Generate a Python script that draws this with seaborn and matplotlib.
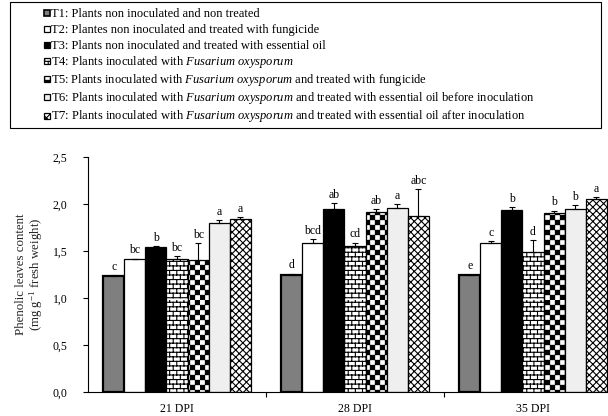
import warnings

import numpy as np
import pandas as pd
import matplotlib
matplotlib.use("Agg")
import matplotlib.pyplot as plt
import matplotlib.patches as mpatches
from matplotlib import hatch as mhatch
from matplotlib.path import Path
from matplotlib.legend_handler import HandlerPatch
from matplotlib.ticker import FuncFormatter
import seaborn as sns

warnings.filterwarnings("ignore")

# ---------------------------------------------------------------- data
dpi_labels = ["21 DPI", "28 DPI", "35 DPI"]
treatments = ["T1", "T2", "T3", "T4", "T5", "T6", "T7"]

legend_labels = [
    "T1: Plants non inoculated and non treated",
    "T2: Plantes non inoculated and treated with fungicide",
    "T3: Plants non inoculated and treated with essential oil",
    "T4: Plants inoculated with $\\mathit{Fusarium\\ oxysporum}$",
    "T5: Plants inoculated with $\\mathit{Fusarium\\ oxysporum}$ and treated with fungicide",
    "T6: Plants inoculated with $\\mathit{Fusarium\\ oxysporum}$ and treated with essential oil before inoculation",
    "T7: Plants inoculated with $\\mathit{Fusarium\\ oxysporum}$ and treated with essential oil after inoculation",
]

# mean phenolic content per treatment at 21, 28 and 35 DPI
t1_mean = [1.23, 1.25, 1.24]
t2_mean = [1.41, 1.59, 1.58]
t3_mean = [1.54, 1.95, 1.94]
t4_mean = [1.42, 1.55, 1.49]
t5_mean = [1.40, 1.92, 1.90]
t6_mean = [1.80, 1.96, 1.95]
t7_mean = [1.84, 1.87, 2.05]

# standard errors
t1_err = [0.01, 0.01, 0.01]
t2_err = [0.01, 0.035, 0.03]
t3_err = [0.01, 0.06, 0.025]
t4_err = [0.025, 0.04, 0.13]
t5_err = [0.18, 0.03, 0.03]
t6_err = [0.03, 0.04, 0.04]
t7_err = [0.02, 0.29, 0.025]

# significance letters
t1_sig = ["c", "d", "e"]
t2_sig = ["bc", "bcd", "c"]
t3_sig = ["b", "ab", "b"]
t4_sig = ["bc", "cd", "d"]
t5_sig = ["bc", "ab", "b"]
t6_sig = ["a", "a", "b"]
t7_sig = ["a", "abc", "a"]

means = [t1_mean, t2_mean, t3_mean, t4_mean, t5_mean, t6_mean, t7_mean]
errors = [t1_err, t2_err, t3_err, t4_err, t5_err, t6_err, t7_err]
letters = [t1_sig, t2_sig, t3_sig, t4_sig, t5_sig, t6_sig, t7_sig]

df = pd.DataFrame(
    [(d, t, m[j]) for t, m in zip(treatments, means) for j, d in enumerate(dpi_labels)],
    columns=["dpi", "trt", "value"],
)

# ---------------------------------------------------------------- styles
face_colors = ["#7f7f7f", "#ffffff", "#000000", "#ffffff", "#ffffff", "#efefef", "#ffffff"]
hatches = [None, None, None, "b", "k", None, "d"]
edge_widths = [1.6, 0.9, 0.9, 0.9, 0.9, 0.9, 0.9]


class CheckerHatch(mhatch.HatchPatternBase):
    """Filled squares laid out as a chessboard ('k')."""

    def __init__(self, hatch, density):
        self.n = 20 if "k" in hatch else 0
        self.num_vertices = (self.n * self.n // 2) * 5

    def set_vertices_and_codes(self, vertices, codes):
        s = 1.0 / self.n
        inset = 0.08 * s
        k = 0
        for i in range(self.n):
            for j in range(self.n):
                if (i + j) % 2:
                    continue
                x0, y0 = i * s + inset, j * s + inset
                x1, y1 = (i + 1) * s - inset, (j + 1) * s - inset
                vertices[k:k + 5] = [[x0, y0], [x1, y0], [x1, y1], [x0, y1], [x0, y0]]
                codes[k] = Path.MOVETO
                codes[k + 1:k + 4] = Path.LINETO
                codes[k + 4] = Path.CLOSEPOLY
                k += 5


class BrickHatch(mhatch.HatchPatternBase):
    """Brick wall: horizontal courses with staggered joints ('b')."""

    def __init__(self, hatch, density):
        on = "b" in hatch
        self.rows = 22 if on else 0
        self.cols = 14
        self.num_vertices = (self.rows + self.rows * self.cols) * 2 if on else 0

    def set_vertices_and_codes(self, vertices, codes):
        h = 1.0 / self.rows
        w = 1.0 / self.cols
        k = 0
        for r in range(self.rows):
            y = (r + 0.5) * h
            vertices[k] = [0.0, y]
            vertices[k + 1] = [1.0, y]
            codes[k] = Path.MOVETO
            codes[k + 1] = Path.LINETO
            k += 2
            off = 0.0 if r % 2 == 0 else 0.5 * w
            for c in range(self.cols):
                x = (c + 0.25) * w + off
                vertices[k] = [x, y]
                vertices[k + 1] = [x, y + h]
                codes[k] = Path.MOVETO
                codes[k + 1] = Path.LINETO
                k += 2


class DiamondHatch(mhatch.HatchPatternBase):
    """Fine diagonal cross-hatch ('d')."""

    def __init__(self, hatch, density):
        self.n = 14 if "d" in hatch else 0
        self.num_vertices = ((2 * self.n + 1) * 2) * 2 if self.n else 0

    def set_vertices_and_codes(self, vertices, codes):
        n = self.n
        k = 0
        for i in range(-n, n + 1):
            c = i / n
            vertices[k] = [0.0, c]
            vertices[k + 1] = [1.0, 1.0 + c]
            codes[k] = Path.MOVETO
            codes[k + 1] = Path.LINETO
            k += 2
        for i in range(0, 2 * n + 1):
            c = i / n
            vertices[k] = [0.0, c]
            vertices[k + 1] = [1.0, c - 1.0]
            codes[k] = Path.MOVETO
            codes[k + 1] = Path.LINETO
            k += 2


mhatch._hatch_types.extend([CheckerHatch, BrickHatch, DiamondHatch])

sns.set_theme(style="ticks")
plt.rcParams["font.family"] = ["Liberation Serif", "DejaVu Serif"]
plt.rcParams["mathtext.fontset"] = "custom"
plt.rcParams["mathtext.rm"] = "Liberation Serif"
plt.rcParams["mathtext.it"] = "Liberation Serif:italic"
plt.rcParams["mathtext.bf"] = "Liberation Serif:bold"
plt.rcParams["hatch.linewidth"] = 0.8
plt.rcParams["hatch.color"] = "black"
plt.rcParams["text.color"] = "black"
plt.rcParams["axes.edgecolor"] = "black"
plt.rcParams["xtick.color"] = "black"
plt.rcParams["ytick.color"] = "black"

fig = plt.figure(figsize=(6.08, 4.16), dpi=100)
fig.patch.set_facecolor("white")
ax = fig.add_axes([88 / 608, 24 / 416, 534 / 608, 235 / 416])

sns.barplot(
    data=df, x="dpi", y="value", hue="trt",
    order=dpi_labels, hue_order=treatments,
    palette=dict(zip(treatments, face_colors)), saturation=1,
    width=0.83, gap=0, errorbar=None,
    edgecolor="black", linewidth=0.9, legend=False, ax=ax,
)

bar_groups = list(ax.containers)
for i, cont in enumerate(bar_groups):
    xs = []
    for bar in cont.patches:
        bar.set_hatch(hatches[i])
        bar.set_linewidth(edge_widths[i])
        bar.set_edgecolor("black")
        xs.append(bar.get_x() + bar.get_width() / 2)
    ax.errorbar(
        xs, means[i], yerr=[np.zeros(len(xs)), errors[i]],
        fmt="none", ecolor="black", elinewidth=0.8, capsize=2.2, capthick=0.8, zorder=3,
    )
    for x, m, e, s in zip(xs, means[i], errors[i], letters[i]):
        ax.annotate(s, (x, m + e), xytext=(0, 1.5), textcoords="offset points",
                    ha="center", va="bottom", fontsize=8.5)

ax.set_xlim(-0.5, 2.5)
ax.set_ylim(0, 2.5)
ax.set_yticks(np.arange(0, 2.51, 0.5))
ax.yaxis.set_major_formatter(FuncFormatter(lambda v, _: f"{v:.1f}".replace(".", ",")))
ax.set_xticks([0.5, 1.5], minor=True)
ax.tick_params(axis="y", direction="out", length=3.6, width=0.8, pad=11, labelsize=8.5)
ax.tick_params(axis="x", which="major", length=0, pad=8, labelsize=8.5)
ax.tick_params(axis="x", which="minor", direction="out", length=3.6, width=0.8)
for side in ("top", "right"):
    ax.spines[side].set_visible(False)
for side in ("left", "bottom"):
    ax.spines[side].set_linewidth(0.8)
    ax.spines[side].set_color("black")
ax.set_xlabel("")
ax.set_ylabel("Phenolic leaves content\n(mg g$^{-1}$ fresh weight)", fontsize=9.3,
              va="center", linespacing=1.05)
ax.yaxis.set_label_coords((30 - 88) / 534, 0.5)


def square_handle(legend, orig_handle, xdescent, ydescent, width, height, fontsize):
    s = 0.48 * fontsize
    return mpatches.Rectangle((-xdescent + width - s, 0.05 * fontsize), s, s)


handles = [
    mpatches.Patch(facecolor=fc, edgecolor="black", hatch=h, linewidth=min(lw, 1.2))
    for fc, h, lw in zip(face_colors, hatches, edge_widths)
]
leg = fig.legend(
    handles, legend_labels,
    loc="upper left", bbox_to_anchor=(10 / 608, 1 - 126 / 416, 591 / 608, 124 / 416),
    mode="expand", borderaxespad=0, fontsize=9,
    handler_map={mpatches.Patch: HandlerPatch(patch_func=square_handle)},
    handlelength=2.86, handleheight=1.25, handletextpad=0.08,
    labelspacing=0.17, borderpad=0.32,
    frameon=True, fancybox=False, framealpha=1, edgecolor="black",
)
leg.get_frame().set_linewidth(0.8)

fig.savefig("out.png", dpi=100)
